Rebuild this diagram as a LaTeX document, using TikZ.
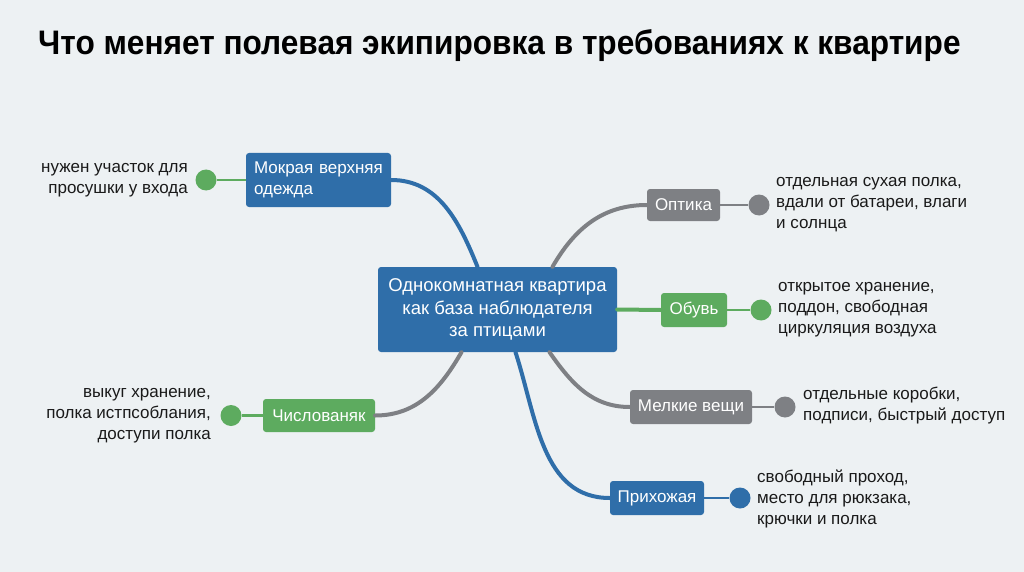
\documentclass[tikz,border=0pt]{standalone}
\usepackage{fontspec}
\setmainfont{Liberation Sans}
\usetikzlibrary{positioning}
\definecolor{mapbg}{HTML}{EDF1F3}
\definecolor{mapblue}{HTML}{2F6EA9}
\definecolor{mapgreen}{HTML}{5DAB5F}
\definecolor{mapgray}{HTML}{7E8084}
\definecolor{maptext}{HTML}{1A1A1A}

\begin{document}
\begin{tikzpicture}[
      x=1pt, y=-1pt,
      every node/.style={font=\fontsize{17}{21}\selectfont, text=maptext},
      topic/.style={rounded corners=3pt, text=white, inner sep=0pt,
                    minimum height=33pt, align=center},
      leaf/.style={circle, inner sep=0pt, minimum size=21pt},
      note/.style={inner sep=0pt},
      branch/.style={line width=4pt, line cap=round},
      twig/.style={line width=2.5pt},
    ]
    \fill[mapbg] (0,0) rectangle (1024,572);
    \node[anchor=base west, inner sep=0pt, font=\fontsize{34}{40}\selectfont\bfseries,
          text=black] (title) at (38,55)
      {\scalebox{0.93}[1]{Что меняет полевая экипировка в требованиях к квартире}};

    % centre
    \node[topic, fill=mapblue, minimum width=239pt, minimum height=85pt,
          font=\fontsize{18.5}{22.5}\selectfont] (hub) at (497.5,309.5)
      {Однокомнатная квартира\\как база наблюдателя\\за птицами};

    % topics
    \node[topic, fill=mapblue, minimum width=145pt, minimum height=54pt,
          text width=129pt, align=left] (wet) at (318.5,180) {Мокрая верхняя\\одежда};
    \node[topic, fill=mapgreen, minimum width=112pt] (misc) at (319,415.5) {Числованяк};
    \node[topic, fill=mapgray, minimum width=73pt, minimum height=32pt] (optics) at (683.5,205) {Оптика};
    \node[topic, fill=mapgreen, minimum width=66pt, minimum height=34pt] (shoes) at (694,310) {Обувь};
    \node[topic, fill=mapgray, minimum width=122pt, minimum height=34pt] (small) at (691,407) {Мелкие вещи};
    \node[topic, fill=mapblue, minimum width=94pt, minimum height=34pt] (hall) at (657,498) {Прихожая};

    % leaves
    \node[leaf, fill=mapgreen] (wetdot) at (206,180) {};
    \node[leaf, fill=mapgreen] (miscdot) at (231,415.5) {};
    \node[leaf, fill=mapgray] (opticsdot) at (759,205) {};
    \node[leaf, fill=mapgreen] (shoesdot) at (761,310) {};
    \node[leaf, fill=mapgray] (smalldot) at (785,407) {};
    \node[leaf, fill=mapblue] (halldot) at (740,498) {};

    \node[note, anchor=east, align=right] (wetnote) at (188,180)
      {нужен участок для\\просушки у входа};
    \node[note, anchor=east, align=right] (miscnote) at (211,416)
      {выкуг хранение,\\полка истпсоблания,\\доступи полка};
    \node[note, anchor=west, align=left] (opticsnote) at (776,205)
      {отдельная сухая полка,\\вдали от батареи, влаги\\и солнца};
    \node[note, anchor=west, align=left] (shoesnote) at (778,310)
      {открытое хранение,\\поддон, свободная\\циркуляция воздуха};
    \node[note, anchor=west, align=left] (smallnote) at (803,406)
      {отдельные коробки,\\подписи, быстрый доступ};
    \node[note, anchor=west, align=left] (hallnote) at (757,499)
      {свободный проход,\\место для рюкзака,\\крючки и полка};

    % branches
    \draw[branch, mapblue] ([xshift=-20pt]hub.north) to[out=112, in=0] (wet.east);
    \draw[branch, mapgray] ([xshift=55pt]hub.north) to[out=60, in=180] (optics.west);
    \draw[branch, mapgreen] (hub.east) -- (shoes.west);
    \draw[branch, mapgray] ([xshift=52pt]hub.south) to[out=-55, in=180] (small.west);
    \draw[branch, mapblue] ([xshift=18pt]hub.south) to[out=-72, in=180] (hall.west);
    \draw[branch, mapgray] ([xshift=-36pt]hub.south) to[out=-120, in=0] (misc.east);

    % twigs
    \draw[twig, mapgreen] (wet.west) -- (wetdot);
    \draw[twig, mapgreen] (misc.west) -- (miscdot);
    \draw[twig, mapgray] (optics.east) -- (opticsdot);
    \draw[twig, mapgreen] (shoes.east) -- (shoesdot);
    \draw[twig, mapgray] (small.east) -- (smalldot);
    \draw[twig, mapblue] (hall.east) -- (halldot);
  \end{tikzpicture}
\end{document}
